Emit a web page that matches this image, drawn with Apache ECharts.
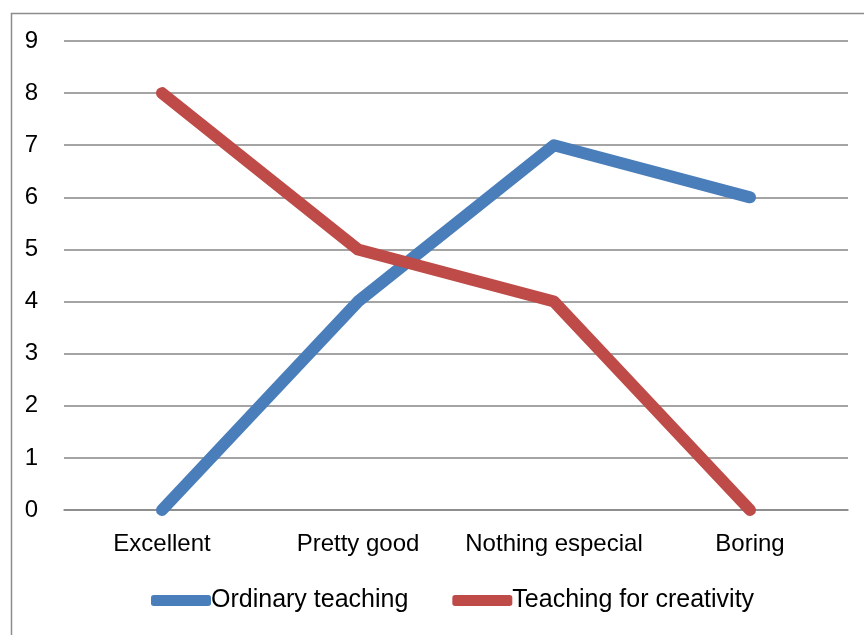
<!DOCTYPE html>
<html>
<head>
<meta charset="utf-8">
<script src="https://cdn.jsdelivr.net/npm/echarts@6/dist/echarts.min.js"></script>
<style>
html,body{margin:0;padding:0;background:#fff;}
#chart{width:864px;height:635px;}
</style>
</head>
<body>
<div id="chart"></div>
<script>
var categories = ['Excellent', 'Pretty good', 'Nothing especial', 'Boring'];
var ordinaryTeaching = [0, 4, 7, 6];
var creativityTeaching = [8, 5, 4, 0];
var seriesNames = ['Ordinary teaching', 'Teaching for creativity'];

var font = '"Liberation Sans", Arial, sans-serif';

var option = {
    animation: false,
    backgroundColor: '#fff',
    graphic: [{
        type: 'rect',
        left: 9,
        top: 11,
        shape: {width: 900, height: 700},
        style: {fill: 'none', stroke: '#8c8c8c', lineWidth: 1.5},
        silent: true
    }],
    grid: {left: 64, right: 16, top: 41, bottom: 125},
    legend: {
        data: seriesNames,
        bottom: 17,
        left: 146,
        icon: 'roundRect',
        itemWidth: 60,
        itemHeight: 11,
        itemGap: 44,
        textStyle: {fontFamily: font, fontSize: 25, color: '#000', padding: [0, 0, 0, -5]}
    },
    xAxis: {
        type: 'category',
        data: categories,
        boundaryGap: true,
        axisLine: {lineStyle: {color: '#868686', width: 1.5}},
        axisTick: {show: false},
        axisLabel: {fontFamily: font, fontSize: 24, color: '#000', margin: 22, interval: 0}
    },
    yAxis: {
        type: 'value',
        min: 0,
        max: 9,
        interval: 1,
        axisLine: {show: false},
        axisTick: {show: false},
        splitLine: {lineStyle: {color: '#868686', width: 1.5}},
        axisLabel: {fontFamily: font, fontSize: 24, color: '#000', margin: 26}
    },
    series: [{
        name: seriesNames[0],
        type: 'line',
        data: ordinaryTeaching,
        symbol: 'none',
        color: '#4a7ebb',
        lineStyle: {width: 12, color: '#4a7ebb', cap: 'round', join: 'round'}
    }, {
        name: seriesNames[1],
        type: 'line',
        data: creativityTeaching,
        symbol: 'none',
        color: '#be4b48',
        lineStyle: {width: 12, color: '#be4b48', cap: 'round', join: 'round'}
    }]
};

var myChart = echarts.init(document.getElementById('chart'));
myChart.setOption(option);
</script>
</body>
</html>
